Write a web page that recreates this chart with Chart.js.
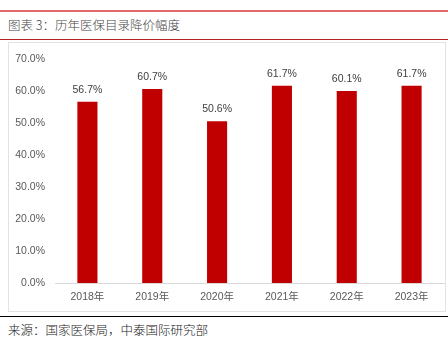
<!DOCTYPE html>
<html>
<head>
<meta charset="utf-8">
<script src="https://cdn.jsdelivr.net/npm/chart.js@4"></script>
<style>
  body { margin: 0; width: 448px; height: 337px; background: #fff; position: relative; overflow: hidden;
         font-family: "Liberation Sans", "Noto Sans CJK SC", sans-serif; }
  #topLine { position: absolute; left: 0; top: 10px; width: 448px; height: 2px; background: #e26b6b; }
  #title { position: absolute; left: 8px; top: 15px; font-size: 12.5px; color: #444; font-weight: 300; font-family: "Noto Sans CJK SC", sans-serif; }
  #titleLine { position: absolute; left: 0; top: 39px; width: 448px; height: 1px; background: #b22222; }
  #box { position: absolute; left: 8px; top: 42px; width: 438px; height: 270px; border: 1px solid #e3e3e3; box-sizing: border-box; }
  #box canvas { position: absolute; left: 0; top: 0; }
  #bottomLine { position: absolute; left: 0; top: 316px; width: 448px; height: 1px; background: #000; }
  #source { position: absolute; left: 8px; top: 320px; font-size: 12.5px; color: #222; font-weight: 300; font-family: "Noto Sans CJK SC", sans-serif; }
</style>
</head>
<body>
<div id="topLine"></div>
<div id="title">图表 3：历年医保目录降价幅度</div>
<div id="titleLine"></div>
<div id="box"><canvas id="chart" width="436" height="268"></canvas></div>
<div id="bottomLine"></div>
<div id="source">来源：国家医保局，中泰国际研究部</div>
<script>
const years = ['2018年', '2019年', '2020年', '2021年', '2022年', '2023年'];
const cutRates = [56.7, 60.7, 50.6, 61.7, 60.1, 61.7];
const yTicks = [0, 10, 20, 30, 40, 50, 60, 70];

const valueLabels = {
    id: 'valueLabels',
    afterDatasetsDraw(chart) {
        const ctx = chart.ctx;
        const meta = chart.getDatasetMeta(0);
        ctx.save();
        ctx.font = '10.5px "Liberation Sans", sans-serif';
        ctx.fillStyle = '#404040';
        ctx.textAlign = 'center';
        ctx.textBaseline = 'middle';
        meta.data.forEach(function (bar, i) {
            ctx.fillText(cutRates[i].toFixed(1) + '%', bar.x, bar.y - 12);
        });
        ctx.restore();
    }
};

const ctx = document.getElementById('chart').getContext('2d');
new Chart(ctx, {
    type: 'bar',
    data: {
        labels: years,
        datasets: [{
            data: cutRates,
            backgroundColor: '#c00000',
            borderWidth: 0,
            categoryPercentage: 1,
            barPercentage: 0.31
        }]
    },
    options: {
        responsive: false,
        animation: false,
        layout: { padding: { top: 12, right: 1, left: 0, bottom: 0 } },
        plugins: { legend: { display: false }, tooltip: { enabled: false } },
        scales: {
            x: {
                grid: { display: false, drawTicks: false },
                border: { display: true, color: '#d9d9d9', width: 1 },
                ticks: { color: '#595959', font: { size: 10.5, family: '"Liberation Sans", "Noto Sans CJK SC", sans-serif' }, padding: 8 },
                afterFit: function (scale) { scale.height = 28; }
            },
            y: {
                min: 0,
                max: 70,
                afterBuildTicks: function (scale) { scale.ticks = yTicks.map(v => ({ value: v })); },
                grid: { display: false, drawTicks: false },
                border: { display: false },
                ticks: {
                    color: '#595959',
                    font: { size: 10.5, family: '"Liberation Sans", sans-serif' },
                    padding: 10,
                    callback: v => v.toFixed(1) + '%'
                },
                afterFit: function (scale) { scale.width = 46; }
            }
        }
    },
    plugins: [valueLabels]
});
</script>
</body>
</html>
